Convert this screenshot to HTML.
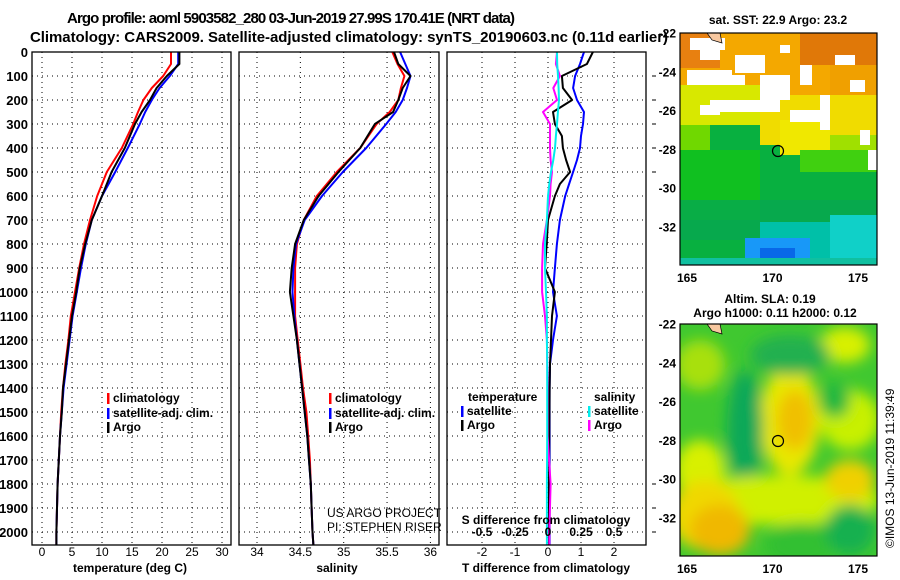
<!DOCTYPE html>
<html><head><meta charset="utf-8"><style>
html,body{margin:0;padding:0;background:#fff;}
svg{display:block;font-family:"Liberation Sans",sans-serif;}
.b{font-weight:bold;}
</style></head><body>
<svg id="c" width="900" height="580" viewBox="0 0 900 580">
<defs><filter id="bl" x="-50%" y="-50%" width="200%" height="200%"><feGaussianBlur stdDeviation="7"/></filter>
<clipPath id="m1c"><rect x="680" y="33" width="197" height="232"/></clipPath>
<clipPath id="m2c"><rect x="680" y="324" width="197" height="232"/></clipPath></defs>
<text class="b" x="67" y="23" font-size="15" textLength="448">Argo profile: aoml 5903582_280 03-Jun-2019 27.99S 170.41E (NRT data)</text>
<text class="b" x="30" y="42" font-size="15" textLength="638">Climatology: CARS2009. Satellite-adjusted climatology: synTS_20190603.nc (0.11d earlier)</text>
<g id="g"></g>
<g clip-path="url(#m1c)">
<rect x="680" y="33" width="197" height="232" fill="#08b040"/>
<rect x="680" y="33" width="197" height="75" fill="#f4a800"/>
<rect x="680" y="33" width="40" height="35" fill="#e88010"/>
<rect x="800" y="33" width="77" height="32" fill="#e07808"/>
<rect x="830" y="65" width="47" height="40" fill="#f0a000"/>
<rect x="680" y="85" width="110" height="40" fill="#d8e800"/>
<rect x="760" y="95" width="117" height="50" fill="#f0dc00"/>
<rect x="780" y="120" width="50" height="35" fill="#f0e800"/>
<rect x="680" y="125" width="30" height="30" fill="#70d800"/>
<rect x="830" y="135" width="47" height="25" fill="#a0e000"/>
<rect x="800" y="150" width="77" height="22" fill="#40d010"/>
<rect x="680" y="150" width="80" height="70" fill="#10c020"/>
<rect x="680" y="200" width="197" height="40" fill="#08a850" opacity="0.8"/>
<rect x="760" y="222" width="117" height="43" fill="#00c0a8"/>
<rect x="830" y="215" width="47" height="50" fill="#10d0c8"/>
<rect x="745" y="238" width="65" height="27" fill="#1898f8"/>
<rect x="760" y="248" width="35" height="17" fill="#0868e8"/>
<rect x="680" y="258" width="197" height="7" fill="#10c0a0"/>
<g fill="#fff"><rect x="690" y="38" width="35" height="12"/><rect x="700" y="50" width="20" height="10"/><rect x="687" y="70" width="45" height="15"/><rect x="735" y="55" width="30" height="18"/><rect x="720" y="75" width="25" height="10"/><rect x="760" y="75" width="30" height="25"/><rect x="710" y="100" width="70" height="12"/><rect x="700" y="105" width="20" height="10"/><rect x="790" y="110" width="40" height="12"/><rect x="820" y="95" width="10" height="35"/><rect x="835" y="55" width="20" height="10"/><rect x="850" y="80" width="15" height="12"/><rect x="860" y="130" width="10" height="15"/><rect x="868" y="150" width="9" height="20"/><rect x="800" y="65" width="12" height="20"/><rect x="780" y="45" width="10" height="8"/></g>
<path d="M707,33 L720,33 L722,43 L712,40Z" fill="#f8c8a0" stroke="#000" stroke-width="0.7"/>
</g>
<rect x="680" y="33" width="197" height="232" fill="none" stroke="#000" stroke-width="1.2"/>
<circle cx="778" cy="151" r="5.5" fill="none" stroke="#000" stroke-width="1.2"/>
<text class="b" x="778" y="24" font-size="12" text-anchor="middle">sat. SST: 22.9 Argo: 23.2</text>
<g clip-path="url(#m2c)">
<rect x="680" y="324" width="197" height="232" fill="#40c830"/>
<g filter="url(#bl)">
<ellipse cx="700" cy="365" rx="25" ry="25" fill="#a8e010"/>
<ellipse cx="845" cy="345" rx="25" ry="18" fill="#d8f000"/>
<ellipse cx="790" cy="420" rx="30" ry="55" fill="#e8e800"/>
<ellipse cx="795" cy="420" rx="18" ry="30" fill="#f0c000"/>
<ellipse cx="850" cy="420" rx="30" ry="30" fill="#c8f000"/>
<ellipse cx="745" cy="430" rx="18" ry="60" fill="#10a858"/>
<ellipse cx="790" cy="355" rx="40" ry="20" fill="#20b050"/>
<ellipse cx="700" cy="470" rx="25" ry="30" fill="#d8f000"/>
<ellipse cx="780" cy="500" rx="100" ry="25" fill="#d0f000"/>
<ellipse cx="850" cy="480" rx="25" ry="20" fill="#f0d000"/>
<ellipse cx="705" cy="515" rx="35" ry="35" fill="#f0d800"/>
<ellipse cx="720" cy="530" rx="30" ry="25" fill="#f0b800"/>
<ellipse cx="800" cy="545" rx="35" ry="22" fill="#30c030"/>
<ellipse cx="850" cy="530" rx="25" ry="25" fill="#18b050"/>
<ellipse cx="835" cy="400" rx="15" ry="18" fill="#20b840"/>
</g>
<path d="M707,324 L720,324 L722,334 L712,331Z" fill="#f8c8a0" stroke="#000" stroke-width="0.7"/>
</g>
<rect x="680" y="324" width="197" height="232" fill="none" stroke="#000" stroke-width="1.2"/>
<circle cx="778" cy="441" r="5.5" fill="none" stroke="#000" stroke-width="1.2"/>
<text class="b" x="770" y="303" font-size="12" text-anchor="middle">Altim. SLA: 0.19</text>
<text class="b" x="775" y="317" font-size="12" text-anchor="middle">Argo h1000: 0.11 h2000: 0.12</text>
<text x="894" y="548" font-size="12" transform="rotate(-90 894 548)">©IMOS 13-Jun-2019 11:39:49</text>
</svg>
<script>
const depths=[0,50,100,150,200,250,300,400,500,600,700,800,900,1000,1100,1200,1300,1400,1500,1600,1700,1800,1900,2000,2055];
const tArgo=[22.9,22.9,20.8,19.1,18.0,16.6,15.5,13.8,11.6,10.0,8.3,7.2,6.3,5.7,5.0,4.5,4.0,3.5,3.3,3.0,2.8,2.6,2.5,2.4,2.4];
const tClim=[21.5,21.5,20.2,18.3,16.9,16.0,15.2,13.3,10.8,9.2,8.0,7.0,6.2,5.5,4.8,4.4,3.9,3.5,3.2,3.0,2.8,2.6,2.5,2.4,2.4];
const tSat=[22.7,22.7,21.3,19.6,18.3,17.2,16.3,14.3,12.2,10.0,8.3,7.3,6.5,5.8,5.1,4.6,4.1,3.6,3.3,3.0,2.8,2.6,2.5,2.4,2.4];
const sArgo=[35.58,35.63,35.77,35.68,35.63,35.57,35.36,35.19,34.94,34.71,34.54,34.44,34.40,34.38,34.42,34.46,34.49,34.52,34.55,34.58,34.60,34.62,34.63,34.64,34.65];
const sClim=[35.56,35.62,35.70,35.66,35.63,35.53,35.38,35.19,34.92,34.69,34.54,34.46,34.44,34.44,34.44,34.47,34.50,34.53,34.57,34.59,34.61,34.62,34.63,34.64,34.65];
const sSat=[35.65,35.71,35.77,35.73,35.68,35.60,35.49,35.26,34.99,34.75,34.55,34.45,34.42,34.41,34.43,34.46,34.49,34.52,34.55,34.58,34.60,34.62,34.63,34.64,34.65];
const dDepths=[0,50,100,150,200,250,300,350,400,450,500,550,600,700,800,900,1000,1100,1200,1300,1400,1600,1800,2000,2055];
const dtSat=[1.09,0.97,0.82,0.76,0.88,1.09,1.06,1.0,0.97,0.88,0.76,0.64,0.52,0.36,0.27,0.21,0.15,0.27,0.15,0.06,0.05,0.05,0.05,0.05,0.05];
const dtArgo=[1.36,1.18,0.42,0.45,0.73,0.15,0.21,0.42,0.45,0.55,0.67,0.36,0.21,0.0,-0.04,-0.09,0.21,0.12,0.09,0.06,0.05,0.04,0.03,0.03,0.03];
const dsSat=[0.068,0.07,0.076,0.08,0.083,0.075,0.068,0.06,0.053,0.04,0.023,0.01,0.0,-0.008,-0.023,-0.023,-0.015,-0.008,-0.008,-0.006,-0.006,-0.006,-0.008,-0.008,-0.008];
const dsArgo=[0.068,0.06,0.09,0.04,0.068,-0.038,0.015,0.015,0.015,0.02,0.03,0.02,0.015,-0.008,-0.038,-0.045,-0.045,-0.023,-0.008,-0.005,-0.004,-0.003,0.02,0.01,0.01];
const depthTicks=[0,100,200,300,400,500,600,700,800,900,1000,1100,1200,1300,1400,1500,1600,1700,1800,1900,2000];
const tTicks=[0,5,10,15,20,25,30];
const sTicks=[34,34.5,35,35.5,36];
const sTickLabels=["34","34.5","35","35.5","36"];
const dTicks=[-2,-1,0,1,2];
const dsTicks=[-0.5,-0.25,0,0.25,0.5];

const NS="http://www.w3.org/2000/svg";
const g=document.getElementById('g');
const yD=d=>52+d*0.24;
const xT=t=>42+6*t;
const xS=s=>257+86.7*(s-34);
const xDT=v=>548+33*v;
const xDS=v=>548+132*v;
function mk(tag,at,parent){const e=document.createElementNS(NS,tag);for(const k in at)e.setAttribute(k,at[k]);(parent||g).appendChild(e);return e;}
function txt(s,x,y,o){const e=mk('text',Object.assign({x:x,y:y,'font-size':12,'font-weight':'bold'},o||{}));e.textContent=s;return e;}
const panels=[{x0:32,x1:231},{x0:239,x1:439},{x0:447,x1:646}];
const yTop=52,yBot=545;
function vgrid(xs){xs.forEach(x=>{const l=mk('line',{x1:x,x2:x,y1:yTop,y2:yBot,stroke:'#000','stroke-width':1,'stroke-dasharray':'1 4'});});}
panels.forEach(p=>{depthTicks.slice(1).forEach(d=>{const l=mk('line',{x1:p.x0,x2:p.x1,y1:yD(d),y2:yD(d),stroke:'#000','stroke-width':1,'stroke-dasharray':'1 4'});});});
vgrid(tTicks.map(xT));vgrid(sTicks.map(xS));vgrid(dTicks.map(xDT));
depthTicks.forEach(d=>{const t=txt(String(d),28,yD(d)+5,{'text-anchor':'end','font-size':13});});
depthTicks.slice(1).forEach(d=>{if(d<=500||d>=1800){const l=mk('line',{x1:652,x2:656,y1:yD(d),y2:yD(d),stroke:'#000'});}});
function line(xs,ds,xf,col,name,w){const pts=xs.map((v,i)=>xf(v).toFixed(1)+','+yD(ds[i]).toFixed(1)).join(' ');const p=mk('polyline',{points:pts,fill:'none',stroke:col,'stroke-width':w||2,'stroke-linejoin':'round'});}
line(tClim,depths,xT,'#f00','temp-climatology-line');
line(tSat,depths,xT,'#00f','temp-satellite-line');
line(tArgo,depths,xT,'#000','temp-argo-line');
line(sClim,depths,xS,'#f00','salinity-climatology-line');
line(sSat,depths,xS,'#00f','salinity-satellite-line');
line(sArgo,depths,xS,'#000','salinity-argo-line');
line(dtSat,dDepths,xDT,'#00f','tdiff-satellite-line');
line(dtArgo,dDepths,xDT,'#000','tdiff-argo-line');
line(dsArgo,dDepths,xDS,'#f0f','sdiff-argo-line');
line(dsSat,dDepths,xDS,'#0ee','sdiff-satellite-line');
panels.forEach((p,i)=>{const r=mk('rect',{x:p.x0,y:yTop,width:p.x1-p.x0,height:yBot-yTop,fill:'none',stroke:'#000','stroke-width':1.3});});
tTicks.forEach(t=>{const e=txt(String(t),xT(t),556,{'text-anchor':'middle','font-weight':'normal'});});
sTicks.forEach((s,i)=>{const e=txt(sTickLabels[i],xS(s),556,{'text-anchor':'middle','font-weight':'normal'});});
dTicks.forEach(t=>{const e=txt(String(t),xDT(t),556,{'text-anchor':'middle','font-weight':'normal'});});
dsTicks.forEach(t=>{const e=txt(String(t),xDS(t),536,{'text-anchor':'middle'});});
let e;
e=txt('temperature (deg C)',130,572,{'text-anchor':'middle'});
e=txt('salinity',337,572,{'text-anchor':'middle'});
e=txt('T difference from climatology',546,572,{'text-anchor':'middle'});
e=txt('S difference from climatology',546,524,{'text-anchor':'middle'});
e=txt('US ARGO PROJECT',327,517,{'font-weight':'normal'});
e=txt('PI: STEPHEN RISER',327,531,{'font-weight':'normal'});
function leg(x,y,col,label){const r=mk('rect',{x:x,y:y-9,width:2.5,height:11,fill:col});const t=txt(label,x+6,y);}
leg(107,402,'#f00','climatology');leg(107,417,'#00f','satellite-adj. clim.');leg(107,431,'#000','Argo');
leg(329,402,'#f00','climatology');leg(329,417,'#00f','satellite-adj. clim.');leg(329,431,'#000','Argo');
e=txt('temperature',468,401);
e=txt('salinity',594,401);
leg(461,415,'#00f','satellite');leg(461,429,'#000','Argo');
leg(588,415,'#0ee','satellite');leg(588,429,'#f0f','Argo');
const lonTicks=[165,170,175];const latTicks=[-22,-24,-26,-28,-30,-32];
const xLon=l=>687+17.1*(l-165);
[[33,265],[324,556]].forEach(([t0,b0])=>{
 const yLat=la=>t0+(-22-la)*19.4;
 latTicks.forEach(la=>{const y=yLat(la);mk('line',{x1:680,x2:684,y1:y,y2:y,stroke:'#000'});mk('line',{x1:873,x2:877,y1:y,y2:y,stroke:'#000'});const t=txt(String(la),676,y+4.5,{'text-anchor':'end'});});
 lonTicks.forEach(lo=>{const x=xLon(lo);mk('line',{x1:x,x2:x,y1:t0,y2:t0+4,stroke:'#000'});mk('line',{x1:x,x2:x,y1:b0-4,y2:b0,stroke:'#000'});const t=txt(String(lo),x,b0+17,{'text-anchor':'middle'});});
});
</script>
</body></html>
